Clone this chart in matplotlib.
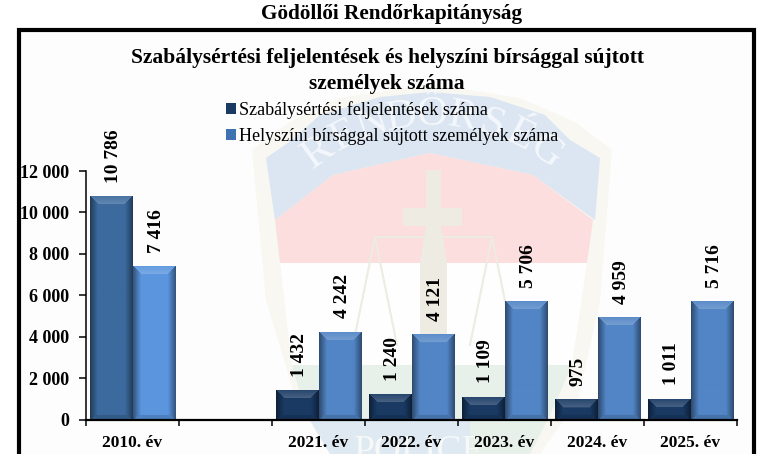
import numpy as np
import matplotlib
matplotlib.use('Agg')
import matplotlib.pyplot as plt
from matplotlib.patches import Polygon, Rectangle, Patch

plt.rcParams['font.family'] = ['Liberation Serif', 'DejaVu Serif']

categories = ['2010. év', '', '2021. év', '2022. év', '2023. év', '2024. év', '2025. év']
feljelentes = [10786, None, 1432, 1240, 1109, 975, 1011]
birsag = [7416, None, 4242, 4121, 5706, 4959, 5716]
feljelentes_label = 'Szabálysértési feljelentések száma'
birsag_label = 'Helyszíni bírsággal sújtott személyek száma'
yticks = [0, 2000, 4000, 6000, 8000, 10000, 12000]
header = 'Gödöllői Rendőrkapitányság'
title = 'Szabálysértési feljelentések és helyszíni bírsággal sújtott\nszemélyek száma'

W, H = 761, 454
# colours, 2010 bars are lighter than the rest
dark = '#1a3a64'
dark_2010 = '#3c6a9e'
blue = '#5285c6'
blue_2010 = '#5a95de'

fig = plt.figure(figsize=(W / 100, H / 100), dpi=100, facecolor='white')

# background layer in pixel coords
bg = fig.add_axes([0, 0, 1, 1], zorder=0)
bg.set_xlim(0, W)
bg.set_ylim(H, 0)
bg.axis('off')
bg.add_patch(Rectangle((18.5, 29.5), 735.5, 440, fc='#fdfdfd', ec='black', lw=3))


def shape(pts, color):
    bg.add_patch(Polygon(pts, closed=True, fc=color, ec='none'))


# police badge watermark
shape([(252, 150), (290, 122), (340, 98), (430, 84), (520, 98), (575, 122), (612, 150),
      (600, 300), (578, 400), (540, 454), (330, 454), (296, 400), (266, 300)], '#f8f7f1')
shape([(266, 158), (292, 140), (320, 115), (380, 97), (430, 92), (490, 97), (545, 115),
      (570, 140), (600, 158), (595, 220), (533, 175), (430, 153), (333, 175), (275, 220)], '#dbe6f2')
shape([(275, 220), (333, 175), (430, 153), (533, 175), (593, 220), (587, 263), (280, 263)], '#fbdedd')
shape([(280, 263), (587, 263), (572, 365), (292, 365)], '#fefefe')
shape([(292, 365), (572, 365), (550, 415), (530, 454), (340, 454), (305, 410)], '#e7f1e9')
shape([(310, 420), (470, 420), (470, 454), (330, 454)], '#dfe9f1')
cross = '#eeebe2'
shape([(426, 170), (441, 170), (441, 208), (462, 208), (462, 226), (441, 226), (447, 263),
      (447, 420), (420, 420), (420, 263), (426, 226), (403, 226), (403, 208), (426, 208)], cross)
bg.plot([375, 492], [237, 237], color=cross, lw=1.5)
for px in (375, 492):
    bg.plot([px - 22, px, px + 22], [345, 237, 345], color=cross, lw=1.5)
word = 'RENDŐRSÉG'
for i, ch in enumerate(word):
    ang = np.deg2rad(-36 + 72 * i / (len(word) - 1))
    bg.text(432 + 193 * np.sin(ang), 308 - 193 * np.cos(ang), ch, color='#f4f7fb', fontsize=31,
            rotation=-np.rad2deg(ang), ha='center', va='center', rotation_mode='anchor')
bg.text(420, 452, 'POLICE', color='#f7f8f8', fontsize=27, ha='center', va='center')

fig.text(392 / W, 1 - 14 / H, header, fontsize=15.3, fontweight='bold', ha='center', va='center')
fig.text(387 / W, 1 - 71 / H, title, fontsize=15.5, fontweight='bold', ha='center', va='center',
         linespacing=1.42)

# chart
left, right, top, bottom = 86, 737, 171, 419.5
ax = fig.add_axes([left / W, 1 - bottom / H, (right - left) / W, (bottom - top) / H], zorder=2)
ax.patch.set_alpha(0)
px_x = (right - left) / len(categories)
px_y = (bottom - top) / 12000


def bevel(x0, w, h, color):
    # pixel shading of one bar: light top edge, dark sides and foot
    pw, ph = int(round(w * px_x)), int(round(h * px_y))
    yy, xx = np.mgrid[0:ph, 0:pw] + 0.5
    side = np.minimum(xx, pw - xx)
    b = min(8, ph / 2)
    rgb = np.array(matplotlib.colors.to_rgb(color))
    f = np.where(side < b, 0.55 + 0.45 * side / b, 1.0)
    foot = (ph - yy) < np.minimum(side, min(5, b))
    f = np.where(foot, 0.86, f)
    img = f[..., None] * rgb
    head = yy < np.minimum(side, b)
    k = 0.06 + 0.14 * yy / b
    lit = rgb + (1 - rgb) * k[..., None]
    img = np.where(head[..., None], lit, img)
    ax.imshow(np.clip(img, 0, 1), extent=(x0, x0 + w, 0, h), aspect='auto', zorder=3, interpolation='bilinear')


width = 0.462
for i in range(len(categories)):
    if feljelentes[i] is None:
        continue
    c1 = dark_2010 if i == 0 else dark
    c2 = blue_2010 if i == 0 else blue
    ax.bar(i - width / 2, feljelentes[i], width, color=c1, zorder=2)
    ax.bar(i + width / 2, birsag[i], width, color=c2, zorder=2)
    bevel(i - width, width, feljelentes[i], c1)
    bevel(i, width, birsag[i], c2)
    for xp, v in ((i - width / 2, feljelentes[i]), (i + width / 2, birsag[i])):
        ax.annotate(f'{v:,}'.replace(',', ' '), (xp, v), xytext=(1.5, 9.5), textcoords='offset points',
                    rotation=90, ha='center', va='bottom', fontsize=14, fontweight='bold',
                    annotation_clip=False, zorder=4)
ax.set_xlim(-0.5, len(categories) - 0.5)
ax.set_ylim(0, 12000)

for s in ('top', 'right'):
    ax.spines[s].set_visible(False)
ax.spines['left'].set_linewidth(1.1)
ax.spines['bottom'].set_linewidth(1.6)
ax.spines['bottom'].set_zorder(5)
ax.set_yticks(yticks)
ax.set_yticklabels([f'{v:,}'.replace(',', ' ') for v in yticks], fontsize=13, fontweight='bold')
ax.tick_params(axis='y', length=5, width=1.1, pad=7)
ax.set_xticks(range(len(categories)))
ax.set_xticklabels(categories, fontsize=12.5, fontweight='bold')
ax.set_xticks(np.arange(len(categories) + 1) - 0.5, minor=True)
ax.tick_params(axis='x', which='major', length=0, pad=11)
ax.tick_params(axis='x', which='minor', length=4, width=1.1)

handles = [Patch(fc=dark, ec='none', label=feljelentes_label), Patch(fc='#3f72b0', ec='none', label=birsag_label)]
fig.legend(handles=handles, loc='upper left', bbox_to_anchor=(226 / W, 1 - 101 / H), frameon=False, fontsize=13,
           handlelength=0.55, handleheight=0.55, handletextpad=0.17, labelspacing=0.51, borderpad=0, borderaxespad=0)

fig.savefig('out.png', dpi=100)
